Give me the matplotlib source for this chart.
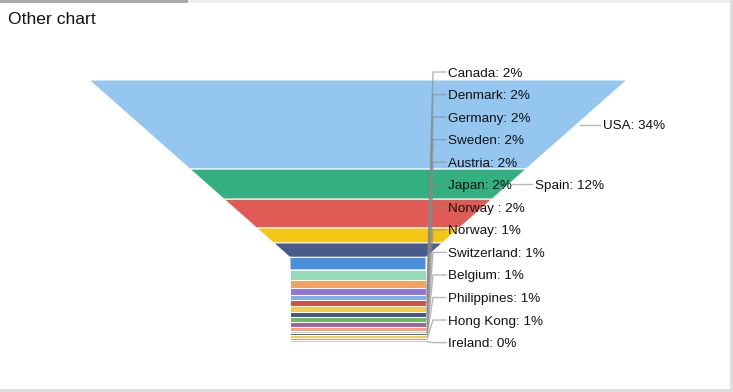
import matplotlib.pyplot as plt
from matplotlib.patches import Polygon, Rectangle

# slice values (share of total, top to bottom)
values = [34, 11.5, 11, 5.7, 5.5, 4.8, 3.8, 3.0, 2.9, 1.7, 2.5, 2.1, 1.9,
          1.9, 1.9, 1.5, 1.0, 0.8, 0.8, 1.1, 0.8]
colors = ["#94c6ef", "#33af81", "#e05b56", "#f4c716", "#4a5b8b", "#4a8fdc",
          "#95dab9", "#f0a262", "#9373d8", "#79b3e4", "#d24e49", "#f0c94f",
          "#465585", "#6cba5c", "#a2639a", "#ff9c7c", "#a6dcea", "#5f5f5f",
          "#f2cb4d", "#f07e84", "#c9c9c9"]

# labels drawn at the side of the big slices
side_labels = ["USA: 34%", "Spain: 12%"]
# stacked labels pointing to the small slices at the bottom
stack_labels = ["Canada: 2%", "Denmark: 2%", "Germany: 2%", "Sweden: 2%",
                "Austria: 2%", "Japan: 2%", "Norway : 2%", "Norway: 1%",
                "Switzerland: 1%", "Belgium: 1%", "Philippines: 1%",
                "Hong Kong: 1%", "Ireland: 0%"]

W, H = 733, 392
TOP, BOTTOM, NECK_Y = 80, 342.5, 257.5
CX, TOP_HALF, NECK_HALF = 358, 269, 68

FONT = "Liberation Sans"


def half_width(y):
    if y >= NECK_Y:
        return NECK_HALF
    t = (y - TOP) / (NECK_Y - TOP)
    return TOP_HALF + (NECK_HALF - TOP_HALF) * t


fig = plt.figure(figsize=(W / 100, H / 100), dpi=100)
ax = fig.add_axes([0, 0, 1, 1])
ax.set_xlim(0, W)
ax.set_ylim(H, 0)
ax.axis("off")

# frame bits
ax.add_patch(Rectangle((0, 0), W, 2.5, color="#eeeeee", lw=0))
ax.add_patch(Rectangle((0, 0), 188, 2.5, color="#aaaaaa", lw=0))
ax.add_patch(Rectangle((730, 0), 3, H, color="#dddddd", lw=0))
ax.add_patch(Rectangle((0, 389), W, 3, color="#dddddd", lw=0))

ax.text(8, 19, "Other chart", fontsize=12.6, family=FONT, color="#111111",
        va="center", ha="left")

total = sum(values)
scale = (BOTTOM - TOP) / total
y = TOP
centers = []
for v, c in zip(values, colors):
    y0, y1 = y, y + v * scale
    pts = [(CX - half_width(y0), y0), (CX + half_width(y0), y0)]
    if y0 < NECK_Y < y1:
        pts += [(CX + NECK_HALF, NECK_Y), (CX + NECK_HALF, y1),
                (CX - NECK_HALF, y1), (CX - NECK_HALF, NECK_Y)]
    else:
        pts += [(CX + half_width(y1), y1), (CX - half_width(y1), y1)]
    ax.add_patch(Polygon(pts, closed=True, facecolor=c, edgecolor="white",
                         lw=0.75, joinstyle="miter"))
    centers.append((y0 + y1) / 2)
    y = y1

line_kw = dict(color="#888888", lw=1, alpha=0.6)
fs = 9.7
dy = 1.5  # text baseline nudge

# side labels for the two big slices
for i, txt in enumerate(side_labels):
    cy = centers[i]
    xe = CX + half_width(cy) + 3
    ax.plot([xe, xe + 20], [cy, cy], **line_kw)
    ax.text(xe + 23, cy + dy, txt, fontsize=fs, family=FONT, va="center",
            ha="left", color="#111111")

# stacked labels
start = len(values) - len(stack_labels)
label_y0, step = 72, 22.55
for k, txt in enumerate(stack_labels):
    ly = label_y0 + k * step
    sy = centers[start + k]
    ax.plot([CX + NECK_HALF + 1, 433, 446], [sy, ly, ly], **line_kw)
    ax.text(448, ly + dy, txt, fontsize=fs, family=FONT, va="center",
            ha="left", color="#111111")

fig.savefig("out.png", dpi=100, facecolor="white")
